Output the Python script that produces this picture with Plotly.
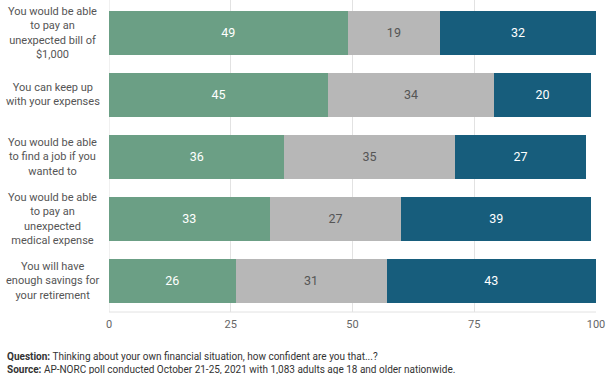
import plotly.graph_objects as go

categories = [
    "You would be able<br>to pay an<br>unexpected bill of<br>$1,000",
    "You can keep up<br>with your expenses",
    "You would be able<br>to find a job if you<br>wanted to",
    "You would be able<br>to pay an<br>unexpected<br>medical expense",
    "You will have<br>enough savings for<br>your retirement",
]
confident = [49, 45, 36, 33, 26]
somewhat = [19, 34, 35, 27, 31]
not_confident = [32, 20, 27, 39, 43]
x_ticks = [0, 25, 50, 75, 100]

ids = list(range(len(categories)))

fig = go.Figure()
series = [
    (confident, "#6b9f85", "white"),
    (somewhat, "#b7b7b7", "#555555"),
    (not_confident, "#175d7c", "white"),
]
for vals, col, tcol in series:
    fig.add_trace(go.Bar(
        y=ids, x=vals, orientation="h",
        marker=dict(color=col, line=dict(width=0)),
        text=[str(v) for v in vals], textposition="inside",
        insidetextanchor="middle", textangle=0, constraintext="none",
        textfont=dict(family="Roboto", size=12.5, color=tcol),
        hoverinfo="skip", showlegend=False,
    ))

for i, c in enumerate(categories):
    fig.add_annotation(
        x=-0.115, xref="paper", y=i, yref="y", text=c, showarrow=False,
        xanchor="center", yanchor="middle", align="center",
        font=dict(family="Roboto", size=11, color="#555555"),
    )

fig.add_annotation(
    x=-0.214, xref="paper", y=-0.118, yref="paper", xanchor="left", yanchor="top",
    align="left", showarrow=False,
    text="<b>Question:</b> Thinking about your own financial situation, how confident are you that...?<br>"
         "<b>Source:</b> AP-NORC poll conducted October 21-25, 2021 with 1,083 adults age 18 and older nationwide.",
    font=dict(family="Roboto", size=10, color="#333333"),
)

fig.update_layout(
    width=612, height=374,
    margin=dict(l=109, r=16, t=0, b=62),
    barmode="stack", bargap=0.28,
    plot_bgcolor="white", paper_bgcolor="white",
    xaxis=dict(range=[0, 100], tickvals=x_ticks, showgrid=True, gridcolor="#e2e2e2",
               gridwidth=1, zeroline=False, showline=False, ticks="",
               ticklabelstandoff=4,
               tickfont=dict(family="Roboto", size=11, color="#666666")),
    yaxis=dict(range=[4.5, -0.53], showticklabels=False, showgrid=False,
               zeroline=False, showline=False, ticks=""),
)
fig.add_shape(type="line", xref="paper", yref="paper", x0=0, x1=1, y0=0, y1=0,
              line=dict(color="#e2e2e2", width=1))
fig.add_shape(type="line", xref="x", yref="paper", x0=0, x1=0, y0=0, y1=1,
              line=dict(color="#e2e2e2", width=1), layer="below")

fig.write_html("out.html", config={"displayModeBar": False},
               post_script="document.body.style.margin='0';")
